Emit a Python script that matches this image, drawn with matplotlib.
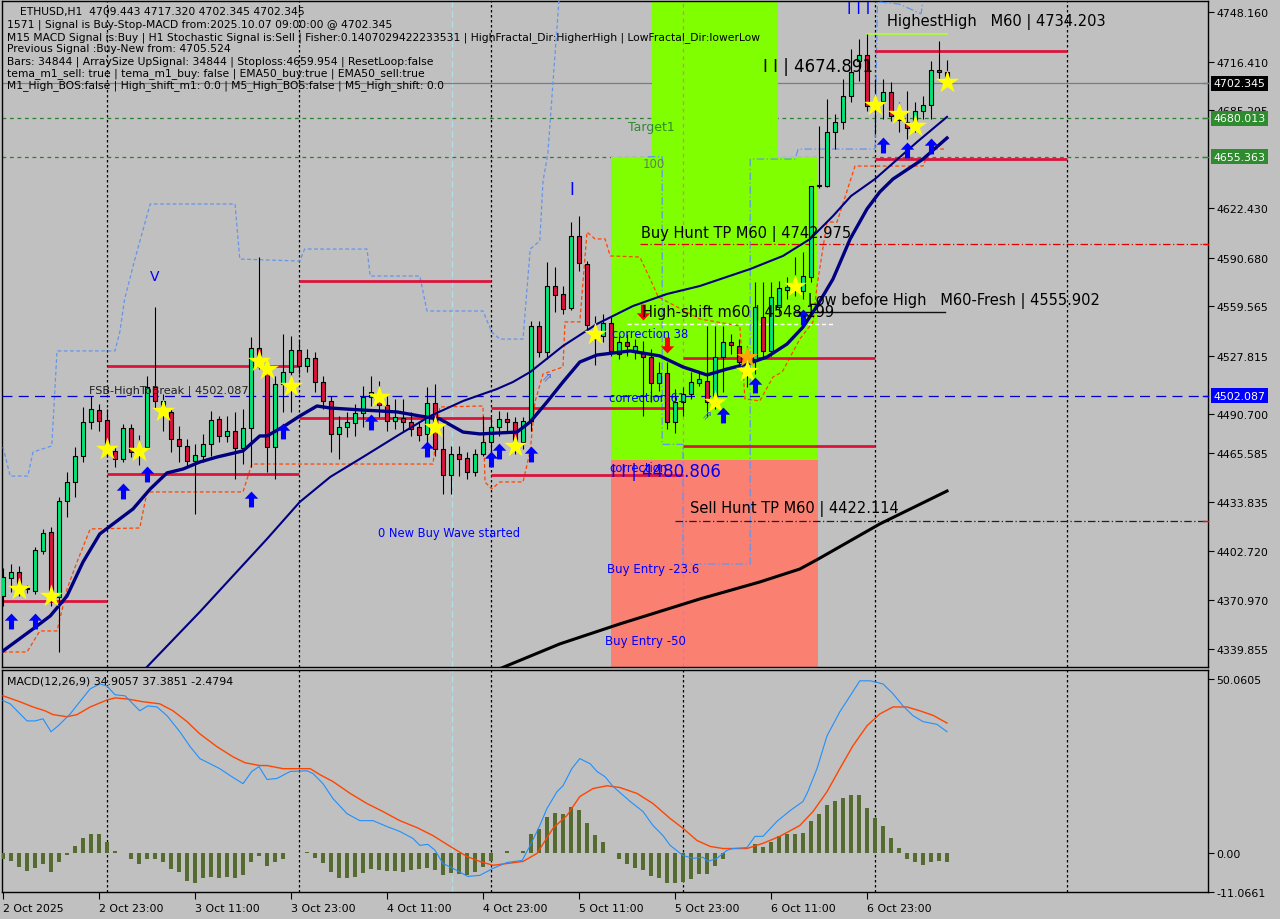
import matplotlib
matplotlib.use('Agg')
import matplotlib.pyplot as plt
import numpy as np
from matplotlib.path import Path
from matplotlib.transforms import blended_transform_factory

plt.rcParams['font.family'] = ['DejaVu Sans']

# ---------------- data ----------------
opens = [4373.8,4385.4,4389.2,4378.0,4377.0,4402.7,4414.8,4373.2,4434.7,4446.9,
         4463.5,4485.4,4493.0,4486.6,4466.8,4461.6,4481.5,4465.0,4469.3,4507.8,
         4492.4,4491.8,4474.5,4470.0,4460.4,4463.5,4471.2,4487.3,4476.4,4479.6,
         4468.7,4481.5,4532.8,4521.2,4469.3,4509.7,4517.4,4531.5,4521.2,4526.4,
         4511.0,4498.8,4477.7,4482.2,4484.7,4491.1,4501.4,4502.0,4496.3,4486.0,
         4487.9,4485.4,4482.2,4477.7,4497.6,4468.0,4451.4,4464.8,4462.2,4453.3,
         4464.8,4472.5,4482.2,4487.3,4485.4,4472.5,4486.0,4546.9,4530.2,4572.5,
         4567.4,4558.4,4604.6,4586.6,4541.8,4540.5,4548.8,4528.9,4536.6,4530.8,
         4530.2,4527.0,4510.3,4516.8,4485.4,4498.2,4503.3,4510.3,4511.6,4498.2,
         4527.0,4536.6,4534.1,4523.8,4525.7,4552.7,4530.8,4559.0,4570.0,4572.5,
         4569.3,4578.3,4636.7,4636.7,4671.2,4677.7,4694.3,4716.8,4720.6,4687.9,
         4691.1,4696.9,4681.5,4677.7,4676.4,4684.7,4688.6,4711.0,4709.443]
highs = [4391.8,4394.4,4393.1,4381.0,4405.2,4416.8,4418.1,4437.3,4453.3,4469.3,
         4495.0,4502.0,4496.9,4493.7,4470.0,4484.1,4484.1,4477.0,4514.8,4559.0,
         4503.3,4493.7,4482.8,4474.5,4471.2,4477.7,4492.4,4489.2,4489.2,4491.8,
         4493.7,4539.8,4591.1,4525.7,4514.8,4541.8,4540.5,4538.6,4532.1,4530.2,
         4514.8,4502.0,4489.2,4491.8,4496.9,4508.4,4514.8,4511.6,4502.0,4500.1,
         4500.1,4491.8,4485.4,4507.8,4509.7,4482.8,4470.0,4470.0,4466.1,4468.0,
         4489.2,4488.6,4492.4,4491.8,4488.6,4488.6,4550.1,4550.1,4587.9,4584.7,
         4572.5,4613.5,4617.4,4588.5,4553.3,4554.6,4552.7,4540.5,4541.8,4538.6,
         4537.3,4532.1,4523.8,4523.8,4506.5,4507.8,4517.4,4517.4,4546.9,4546.9,
         4546.9,4541.8,4538.6,4534.1,4575.1,4575.1,4575.1,4575.7,4578.3,4591.1,
         4594.3,4636.7,4675.1,4692.4,4682.8,4705.2,4724.4,4730.8,4734.2,4705.2,
         4705.2,4703.3,4690.5,4697.5,4690.5,4694.3,4716.8,4729.6,4717.320]
lows = [4367.4,4376.4,4373.8,4376.0,4375.1,4400.8,4367.4,4337.9,4424.5,4437.3,
        4459.7,4480.9,4479.6,4462.9,4456.5,4459.7,4462.9,4458.0,4468.0,4493.7,
        4479.6,4466.1,4459.7,4456.5,4426.4,4459.7,4463.5,4472.5,4472.5,4448.8,
        4458.4,4456.5,4519.3,4453.3,4448.8,4491.8,4491.8,4516.1,4517.4,4504.6,
        4493.7,4466.1,4461.6,4475.7,4476.4,4482.2,4495.6,4488.6,4479.6,4480.9,
        4479.6,4476.4,4473.2,4470.0,4463.5,4439.2,4439.2,4450.7,4448.8,4450.7,
        4463.5,4466.1,4476.4,4479.0,4464.8,4468.0,4479.6,4527.0,4525.7,4555.8,
        4554.6,4557.1,4582.2,4543.7,4521.9,4536.6,4527.7,4525.7,4527.7,4525.7,
        4489.2,4498.2,4505.2,4480.9,4478.3,4489.2,4500.1,4508.4,4488.6,4493.7,
        4504.6,4529.0,4521.2,4507.8,4516.1,4525.7,4527.7,4554.6,4564.2,4566.1,
        4564.2,4575.1,4635.3,4636.0,4660.3,4673.2,4690.5,4704.0,4684.7,4670.0,
        4679.6,4678.3,4671.2,4666.8,4671.2,4679.6,4679.6,4705.2,4702.345]
closes = [4386.0,4389.2,4376.4,4379.0,4403.3,4414.2,4373.2,4434.7,4446.9,4463.5,
          4485.4,4493.7,4486.0,4468.0,4461.6,4481.5,4466.1,4468.0,4507.8,4498.8,
          4498.8,4474.5,4470.0,4460.4,4464.2,4471.2,4486.6,4476.4,4479.6,4468.7,
          4481.5,4532.8,4525.7,4469.3,4509.7,4517.4,4531.5,4521.2,4526.4,4511.0,
          4498.8,4477.7,4482.2,4485.4,4491.1,4501.4,4504.6,4496.3,4486.0,4488.6,
          4485.4,4480.9,4477.1,4497.6,4468.0,4451.4,4464.8,4461.6,4453.3,4464.8,
          4472.5,4482.2,4487.3,4485.4,4472.5,4486.0,4546.9,4530.2,4572.5,4566.8,
          4557.8,4604.6,4587.3,4547.5,4538.6,4548.8,4530.8,4536.6,4534.1,4534.1,
          4527.0,4510.3,4516.8,4485.4,4498.2,4503.3,4511.0,4512.9,4498.2,4527.0,
          4536.6,4534.7,4523.8,4527.0,4559.0,4530.8,4565.5,4571.2,4571.9,4573.8,
          4579.0,4636.7,4637.3,4671.2,4677.7,4694.3,4709.7,4720.6,4687.9,4690.5,
          4696.9,4681.5,4678.9,4673.8,4684.7,4688.6,4711.0,4709.7,4702.345]

time_labels = ['2 Oct 2025', '2 Oct 23:00', '3 Oct 11:00', '3 Oct 23:00', '4 Oct 11:00',
               '4 Oct 23:00', '5 Oct 11:00', '5 Oct 23:00', '6 Oct 11:00', '6 Oct 23:00']
time_label_bars = [0, 12, 24, 36, 48, 60, 72, 84, 96, 108]
day_separator_bars = [13, 37, 61, 85, 109, 133]

price_ticks = [4748.160, 4716.410, 4685.295, 4622.430, 4590.680, 4559.565, 4527.815,
               4490.700, 4465.585, 4433.835, 4402.720, 4370.970, 4339.855]
price_tick_labels = ['4748.160', '4716.410', '4685.295', '4622.430', '4590.680', '4559.565',
                     '4527.815', '4490.700', '4465.585', '4433.835', '4402.720', '4370.970', '4339.855']

# moving averages (bar index, price)
ema_fast_x = [0,3.75,5.9,8,10,12.1,14.25,16.25,18.4,20.5,22.5,24.6,26.75,30,32.1,33,35,37.1,39.25,40.9,
              45,49.25,52.1,54.6,57.5,59.6,64.25,65.9,68,70,72.1,74.25,78.4,82.1,85,88,90.5,93,95.5,
              98,100,101.75,103.75,105.9,108,109.6,111.25,115,118]
ema_fast_y = [4338.6,4352.7,4361.0,4373.8,4395.6,4413.6,4421.9,4429.6,4442.4,4452.7,4455.2,4459.7,
              4462.9,4466.8,4476.4,4476.4,4482.2,4489.2,4495.6,4494.3,4493.0,4491.8,4489.2,4487.3,
              4478.9,4477.7,4478.9,4485.4,4498.2,4511.0,4523.8,4528.3,4530.9,4527.7,4520.6,4515.5,
              4519.3,4522.5,4527.0,4535.3,4546.2,4559.7,4577.0,4602.7,4621.9,4632.8,4641.1,4653.9,4667.4]
ema_slow_x = [17.5,24.6,33,37.1,40.9,45,49.25,53.4,57.5,61.75,63.75,65.9,70,74.25,78.75,83,87.1,
              93.4,97.5,100.9,103.75,106,109,114.25,118]
ema_slow_y = [4325.7,4363.6,4410.4,4434.1,4450.1,4462.9,4476.4,4489.2,4498.8,4506.5,4511.0,4517.4,
              4534.1,4548.2,4559.7,4567.4,4572.5,4583.4,4591.8,4602.7,4617.4,4630.2,4641.1,4664.8,4680.9]
ema_long_x = [62,69.6,77.1,87.1,94.6,99.6,101.9,109.6,118]
ema_long_y = [4327.0,4343.1,4355.9,4371.9,4382.8,4391.1,4397.5,4420.0,4441.1]

# trailing bands
lower_band_x = [0,3,4.6,6.75,8,9.25,10.9,17.1,18,30,31.1,53.75,54.6,60,60.25,61.1,62.1,65,65.9,66.5,
                67.5,70,70.25,72.1,73,74,75.25,75.9,79.6,80.9,81.9,87.1,92.1,92.75,94.6,96.25,97.4,
                99.6,101.25,101.75,103,104.25,106.5,115,115.9,117.75]
lower_band_y = [4337.9,4337.9,4351.4,4351.4,4378.3,4395.6,4416.8,4417.4,4440.5,4440.5,4458.4,4458.4,
                4495.0,4495.6,4446.9,4442.4,4446.9,4446.9,4466.8,4498.2,4516.1,4520.6,4549.5,4549.5,
                4607.1,4602.7,4602.7,4591.8,4591.1,4577.0,4565.5,4551.4,4546.9,4500.1,4498.8,4514.2,
                4517.4,4538.5,4549.5,4572.5,4613.5,4613.5,4649.4,4649.4,4660.3,4660.3]
upper_band_x = [0,0.9,3.1,3.75,6.1,6.75,14,14.6,15.2,16.5,18.4,29,29.6,37.1,37.7,45.5,45.9,52.1,53,60,
                61.1,62.1,65,65.9,67.1,67.5,68.1,69.5]
upper_band_y = [4469.3,4450.7,4450.7,4466.1,4470.0,4530.9,4530.9,4543.0,4564.0,4590.0,4625.1,4625.1,
                4589.8,4588.5,4596.2,4596.2,4578.9,4578.9,4556.5,4556.5,4543.0,4538.5,4538.5,4596.2,
                4601.4,4639.8,4657.1,4756.0]
upper_band2_x = [80.6,82.4,82.4,85,85,93.4,93.4,99,99.4,109,109.3,112,114.75,115]
upper_band2_y = [4655.4,4655.4,4471.0,4471.0,4394.3,4394.3,4653.9,4653.9,4660.3,4660.3,4754.6,4753.3,
                 4747.0,4754.6]

# support / resistance segments (start bar, end bar, price)
res_start = [0, 13, 13, 37, 37, 61, 61, 85, 85, 109, 109]
res_end = [13, 37, 37, 61, 61, 85, 85, 109, 109, 133, 133]
res_price = [4370.6, 4521.2, 4452.0, 4575.7, 4487.9, 4494.3, 4451.4, 4526.4, 4470.0, 4723.2, 4653.9]

current_price = 4702.345
fsb_high = 4502.087
green_levels = [4680.013, 4655.363]
buy_hunt_level = 4599.4
sell_hunt_level = 4422.114
low_before_high = 4555.902
high_shift = 4548.199
highest_high = 4734.203

# zones (x0, x1, y0, y1)
zone_target = (81.1, 96.9, 4655.4, 4760.0)
zone_correction = (76.0, 101.9, 4461.0, 4655.4)
zone_entry = (76.0, 101.9, 4320.0, 4461.0)

# signals
star_x = [2, 6, 13, 17, 20, 32, 33, 36, 47, 54, 64, 74, 89, 93, 99, 109, 112, 114, 118]
star_y = [4378.3, 4373.8, 4468.0, 4466.8, 4492.4, 4524.4, 4519.3, 4508.4, 4501.4, 4482.2, 4470.0,
          4541.8, 4498.2, 4518.0, 4572.5, 4688.5, 4682.8, 4675.1, 4703.3]
orange_star_x = [93]
orange_star_y = [4527.0]
up_x = [1, 4, 15, 18, 31, 35, 46, 53, 61, 62, 66, 90, 94, 100, 110, 113, 116]
up_y = [4357.8, 4357.5, 4441.1, 4452.0, 4436.0, 4479.6, 4485.3, 4468.0, 4461.6, 4466.8, 4464.8,
        4489.8, 4509.3, 4552.7, 4662.9, 4659.7, 4662.3]
down_x = [80, 83]
down_y = [4555.8, 4534.4]
hollow_x = [68, 88]
hollow_y = [4514.2, 4489.8]

# MACD
macd_x = [0,0.9,3,4,5,6,6.9,8.4,9.6,10.9,12.1,13,14,15.25,17.1,18.1,19.25,20.5,22.1,23.4,24.6,25.9,
          27.1,28.4,30,31.1,32,33,34.25,35.9,38,38.75,40,41.25,43,44.6,46.25,48,49.6,51.25,52.1,53.1,
          54,55,56.25,58.1,59.6,61.25,63,64.9,65.9,67.1,68,69.25,70,71.1,72.1,73.4,74.25,75.25,76.25,
          78.4,80,81.25,82.5,83.4,85,86.25,87.5,88.1,89.25,90.5,91.25,93,94,95,96.75,98.4,100,100.6,
          101.75,103,104.6,105.9,107.1,108.4,110,111.25,112.5,113.75,115,116.75,118]
macd_y = [43.8,42.9,38.0,38.0,38.6,34.9,36.6,40.0,43.5,47.2,48.6,48.0,45.5,45.2,40.9,42.3,42.0,39.5,
          34.9,30.6,27.2,25.7,24.3,22.3,20.0,23.5,24.9,21.2,21.5,23.5,23.7,22.9,20.0,15.7,11.4,9.4,9.4,
          7.7,6.3,4.3,2.3,2.6,0.9,-2.9,-4.3,-6.6,-6.3,-4.3,-2.6,-2.0,2.3,8.0,12.9,17.7,19.4,24.3,27.2,
          25.7,23.5,22.0,19.2,14.9,12.0,8.0,5.1,2.3,-0.6,-1.4,-1.1,-2.3,-1.4,0.9,1.4,1.7,4.9,4.9,9.2,
          12.3,14.9,17.7,24.3,33.7,40.6,45.2,49.5,49.5,48.6,45.8,42.3,39.5,37.8,37.0,34.9057]
signal_x = [0,2.1,3.75,5.25,6.25,8,9.25,10.9,13,14,15.5,17.5,19.6,21.25,23,24.6,26.75,28.75,30.25,
            32.1,33,35,38.4,39.6,41.25,43.4,45.5,47.5,49.6,51.75,53.75,55.9,58,59.6,61.25,63,65,66.75,
            68.75,70.5,72.1,73.75,75.5,77.1,79.25,81.25,83.4,85,86.75,88.4,90,93,95,97.1,99.6,101.25,
            103,104.6,106.25,108,109.6,111.25,113,114.6,116.25,118]
signal_y = [45.2,43.5,42.0,40.9,39.8,39.2,39.8,42.0,44.0,44.6,44.3,43.5,42.9,40.9,37.8,34.3,30.6,27.7,
            26.0,25.2,25.2,24.3,24.3,22.6,20.6,17.2,14.3,12.0,9.4,7.4,5.1,2.0,-0.9,-2.3,-3.4,-2.9,-2.3,
            0.0,7.2,10.9,16.3,18.6,19.4,18.9,17.2,14.3,10.0,7.2,3.7,2.0,1.4,1.4,2.9,4.9,8.0,12.0,17.7,
            24.3,30.9,36.6,40.0,42.0,42.0,40.9,39.6,37.3851]
hist = [-1.5,-2.3,-3.8,-5.0,-4.1,-2.9,-5.3,-2.6,-0.5,2.0,
        4.4,5.5,5.5,3.4,0.8,0.2,-1.7,-2.9,-1.5,-1.5,
        -2.4,-4.4,-5.3,-7.8,-8.5,-7.1,-6.8,-7.1,-6.8,-7.1,
        -6.3,-2.4,-0.7,-3.6,-2.4,-1.7,0.2,0.1,0.3,-1.3,
        -2.7,-5.3,-7.1,-7.1,-6.8,-5.5,-4.6,-4.7,-5.1,-5.1,
        -5.2,-4.9,-4.4,-4.1,-4.9,-6.3,-5.6,-5.8,-6.1,-5.3,
        -3.8,-2.2,0.2,0.8,0.2,0.8,5.5,7.0,10.5,11.6,
        11.2,13.4,12.5,8.7,5.3,3.2,0.2,-1.7,-2.9,-4.1,
        -4.9,-6.6,-7.1,-8.5,-8.5,-8.3,-7.3,-6.0,-5.8,-3.7,
        -1.5,0.2,0.2,0.2,2.6,1.9,3.4,4.9,5.5,5.5,
        5.8,9.2,11.2,13.8,15.0,16.0,16.7,16.7,13.1,10.2,
        8.0,4.4,1.5,-1.5,-2.6,-3.2,-2.6,-2.2,-2.4794]
macd_ticks = [50.0605, 0.0, -11.0661]
macd_tick_labels = ['50.0605', '0.00', '-11.0661']

header_lines = [
    "ETHUSD,H1  4709.443 4717.320 4702.345 4702.345",
    "1571 | Signal is Buy-Stop-MACD from:2025.10.07 09:00:00 @ 4702.345",
    "M15 MACD Signal is:Buy | H1 Stochastic Signal is:Sell | Fisher:0.1407029422233531 | HighFractal_Dir:HigherHigh | LowFractal_Dir:lowerLow",
    "Previous Signal :Buy-New from: 4705.524",
    "Bars: 34844 | ArraySize UpSignal: 34844 | Stoploss:4659.954 | ResetLoop:false",
    "tema_m1_sell: true | tema_m1_buy: false | EMA50_buy:true | EMA50_sell:true",
    "M1_High_BOS:false | High_shift_m1: 0.0 | M5_High_BOS:false | M5_High_shift: 0.0",
]

# ---------------- styling ----------------
BG = '#C0C0C0'
GREEN = '#00E676'
RED = '#DC143C'
W, H = 1280, 920
FS = 7.9
HFS = 7.75

fig = plt.figure(figsize=(12.8, 9.2), dpi=100, facecolor=BG)

def fx(px):
    return px / W

def fy(py):
    return 1 - py / H

ax = fig.add_axes([fx(2), fy(668), fx(1208) - fx(2), fy(2) - fy(668)])
axm = fig.add_axes([fx(2), fy(893), fx(1208) - fx(2), fy(671) - fy(893)])
for a in (ax, axm):
    a.set_facecolor(BG)
    for s in a.spines.values():
        s.set_color('black')
        s.set_linewidth(1.0)
    a.set_xlim(-0.125, 150.625)

ax.set_ylim(4328.3, 4755.2)
axm.set_ylim(-11.0661, 52.6)

o = np.array(opens); h = np.array(highs); l = np.array(lows); c = np.array(closes)
idx = np.arange(len(o))

# arrow marker shapes
up_arrow = Path([(0, 1.0), (0.85, 0.1), (0.32, 0.1), (0.32, -1.0), (-0.32, -1.0), (-0.32, 0.1),
                 (-0.85, 0.1), (0, 1.0)], closed=True)
down_arrow = Path([(0, -1.0), (0.85, -0.1), (0.32, -0.1), (0.32, 1.0), (-0.32, 1.0), (-0.32, -0.1),
                   (-0.85, -0.1), (0, -1.0)], closed=True)

# separators
for b in day_separator_bars:
    ax.axvline(b, color='black', lw=0.9, ls=(0, (2, 2)), zorder=1)
    axm.axvline(b, color='black', lw=0.9, ls=(0, (2, 2)), zorder=1)
cyan_sep = 56.125
ax.axvline(cyan_sep, color='#B0E0E6', lw=0.9, ls=(0, (5, 3)), zorder=1)
axm.axvline(cyan_sep, color='#B0E0E6', lw=0.9, ls=(0, (5, 3)), zorder=1)

# background levels
ax.axhline(current_price, color='#708090', lw=0.9, zorder=1.5)
for gl in green_levels:
    ax.axhline(gl, color='#2E7D32', lw=0.9, ls=(0, (3, 3)), zorder=1.5)

# zones
for (x0, x1, y0, y1), col in [(zone_target, '#7FFF00'), (zone_correction, '#7FFF00'), (zone_entry, '#FA8072')]:
    ax.fill_between([x0, x1], y0, y1, color=col, lw=0, zorder=2)
ax.axvline(85, color='#E070C0', lw=0.9, ls=(0, (3, 3)), zorder=2.5)

# bands
ax.plot(upper_band_x, upper_band_y, color='#6495ED', lw=0.9, ls=(0, (3, 2)), zorder=3)
ax.plot(upper_band2_x, upper_band2_y, color='#6495ED', lw=0.9, ls=(0, (6, 2, 1, 2)), zorder=3)
ax.plot(lower_band_x, lower_band_y, color='#FF4500', lw=0.9, ls=(0, (3, 2)), zorder=3)

# lines
ax.axhline(fsb_high, color='#0000CD', lw=0.9, ls=(0, (8, 5)), zorder=3.5)
ax.plot([79.6, 150.625], [buy_hunt_level] * 2, color='#E00000', lw=0.9, ls=(0, (6, 2, 1, 2)), zorder=3.5)
ax.plot([84, 150.625], [sell_hunt_level] * 2, color='#202020', lw=0.9, ls=(0, (6, 2, 1, 2)), zorder=3.5)
ax.plot([99, 117.75], [low_before_high] * 2, color='#101010', lw=1.0, zorder=3.5)
ax.plot([78, 103.75], [high_shift] * 2, color='white', lw=1.0, ls=(0, (3, 2)), zorder=3.5)
ax.plot([108, 118], [highest_high] * 2, color='#ADFF2F', lw=1.2, zorder=3.5)
for s0, s1, p in zip(res_start, res_end, res_price):
    ax.plot([s0, s1], [p, p], color=RED, lw=2.0, zorder=4, solid_capstyle='butt')

# candles
up = c >= o
ax.vlines(idx, l, h, color='black', lw=0.8, zorder=5)
body = np.maximum(np.abs(c - o), 0.7)
ax.bar(idx, body, bottom=np.minimum(o, c), width=0.62, color=np.where(up, GREEN, RED),
       edgecolor='black', linewidth=0.8, zorder=6)

# moving averages
ax.plot(ema_long_x, ema_long_y, color='black', lw=2.2, zorder=7)
ax.plot(ema_slow_x, ema_slow_y, color='#000080', lw=1.5, zorder=7)
ax.plot(ema_fast_x, ema_fast_y, color='#000080', lw=2.4, zorder=7)

# markers
ax.scatter(star_x, star_y, marker='*', s=300, color='#FFFF00', linewidths=0, zorder=9)
ax.scatter(orange_star_x, orange_star_y, marker='*', s=260, color='#FFA500', linewidths=0, zorder=8.5)
ax.scatter(up_x, up_y, marker=up_arrow, s=130, color='#0000FF', linewidths=0, zorder=9)
ax.scatter(down_x, down_y, marker=down_arrow, s=130, color='#FF0000', linewidths=0, zorder=9)
for xx, yy in zip(hollow_x, hollow_y):
    ax.text(xx, yy, '⇗', color='#4169E1', fontsize=9, ha='center', va='center', zorder=9)

# ---- axis ticks ----
ax.yaxis.tick_right()
ax.set_yticks(price_ticks)
ax.set_yticklabels(price_tick_labels)
ax.tick_params(axis='y', direction='out', length=4, width=0.8, labelsize=FS, pad=2, colors='black')
ax.tick_params(axis='x', bottom=False, labelbottom=False)
axm.yaxis.tick_right()
axm.set_yticks(macd_ticks)
axm.set_yticklabels(macd_tick_labels)
axm.tick_params(axis='y', direction='out', length=4, width=0.8, labelsize=FS, pad=2)
axm.set_xticks(time_label_bars)
axm.set_xticklabels(time_labels, ha='left')
axm.tick_params(axis='x', direction='out', length=5, width=0.8, labelsize=FS, pad=3)

trans = blended_transform_factory(ax.transAxes, ax.transData)
for val, fc in [(current_price, 'black'), (green_levels[0], '#2E8B2E'), (green_levels[1], '#2E8B2E'), (fsb_high, '#0000FF')]:
    ax.text(1.0045, val, f'{val:.3f}', transform=trans, ha='left', va='center', color='white',
            fontsize=FS, bbox=dict(boxstyle='square,pad=0.22', fc=fc, ec='none'), clip_on=False, zorder=10)
for val, col in [(current_price, '#708090'), (green_levels[0], '#2E8B2E'), (green_levels[1], '#2E8B2E'),
                 (fsb_high, '#0000FF'), (buy_hunt_level, '#FF0000'), (sell_hunt_level, '#FF0000')]:
    ax.plot([0.996, 1.0], [val, val], transform=trans, color=col, lw=1.0, zorder=10, clip_on=False)

# MACD panel
axm.bar(idx, hist, width=0.38, color='#556B2F', zorder=3)
axm.plot(signal_x, signal_y, color='#FF4500', lw=1.0, zorder=4)
axm.plot(macd_x, macd_y, color='#1E90FF', lw=0.8, zorder=5)

# ---- texts ----
def ptext(x, y, s, **kw):
    kw.setdefault('fontsize', FS)
    kw.setdefault('color', 'black')
    fig.text(fx(x), fy(y), s, ha=kw.pop('ha', 'left'), va=kw.pop('va', 'center'), **kw)

ptext(20, 12, header_lines[0], fontsize=HFS)
for k, line in enumerate(header_lines[1:]):
    ptext(7, 25 + 12.1 * k, line, fontsize=HFS)
ptext(7, 682, "MACD(12,26,9) 34.9057 37.3851 -2.4794")

ptext(89, 391, "FSB-HighToBreak | 4502.087", fontsize=8.1, color='#202020')
ptext(378, 533, "0 New Buy Wave started", fontsize=8.3, color='#0000FF')
ptext(628, 128, "Target1", fontsize=9, color='#2E8B2E')
ptext(643, 165, "100", fontsize=8.5, color='#5F7F5F')
ptext(641, 234, "Buy Hunt TP M60 | 4742.975", fontsize=10.5)
ptext(642, 313, "High-shift m60 | 4548.199", fontsize=10.5)
ptext(808, 301, "Low before High   M60-Fresh | 4555.902", fontsize=10.5)
ptext(690, 509, "Sell Hunt TP M60 | 4422.114", fontsize=10.5)
ptext(887, 22, "HighestHigh   M60 | 4734.203", fontsize=10.5)
ptext(612, 335, "correction 38", fontsize=8.3, color='#0000FF')
ptext(609, 399, "correction 61", fontsize=8.3, color='#0000FF')
ptext(609, 469, "correction", fontsize=8.3, color='#0000FF')
ptext(611, 472, "I I | 4480.806", fontsize=12, color='#0000FF')
ptext(763, 67, "I I | 4674.891", fontsize=12, color='black')
ptext(607, 569, "Buy Entry -23.6", fontsize=8.5, color='#0000FF')
ptext(605, 641, "Buy Entry -50", fontsize=8.5, color='#0000FF')
ptext(155, 277, "V", fontsize=10, color='#0000FF', ha='center')
ptext(572, 190, "I", fontsize=12, color='#0000FF', ha='center')
ptext(859, 9, "I I I", fontsize=11, color='#0000FF', ha='center')

fig.savefig('out.png', dpi=100, facecolor=BG)
